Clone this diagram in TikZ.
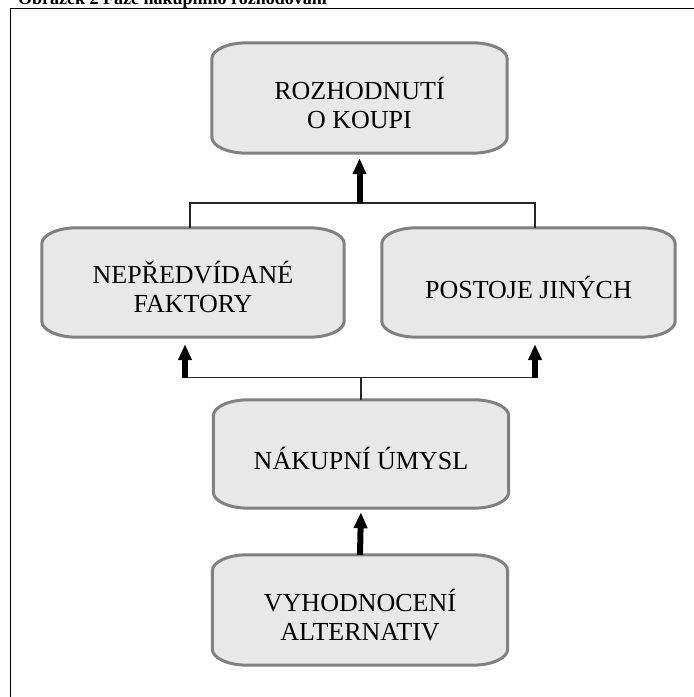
\documentclass[tikz,border=0pt]{standalone}
\usepackage{fontspec}
\setmainfont{Liberation Serif}
\usetikzlibrary{arrows.meta, calc, backgrounds}

% box with flat sides and oval corners round a named node
\newcommand{\ovalframe}[1]{%
  \draw[boxline] ([xshift=35pt]#1.north west) -- ([xshift=-35pt]#1.north east)
    arc[start angle=90, end angle=0, x radius=35pt, y radius=16pt]
    -- ([yshift=16pt]#1.south east)
    arc[start angle=0, end angle=-90, x radius=35pt, y radius=16pt]
    -- ([xshift=35pt]#1.south west)
    arc[start angle=270, end angle=180, x radius=35pt, y radius=16pt]
    -- ([yshift=-16pt]#1.north west)
    arc[start angle=180, end angle=90, x radius=35pt, y radius=16pt] -- cycle;}
% box text, set a little below the middle
\newcommand{\boxtext}[1]{\raisebox{-9pt}[\height][\depth]{\begin{tabular}{@{}c@{}}#1\end{tabular}}}

\begin{document}
\begin{tikzpicture}[x=1pt, y=1pt, >=Latex]
  % Define styles
  \tikzstyle{block} = [rectangle, minimum width=295pt, minimum height=110pt, inner sep=0pt, font=\fontsize{26}{29}\selectfont, text=black]
  \tikzstyle{boxline} = [draw=gray, line width=3pt, fill=gray!18]
  \tikzstyle{link} = [line width=1.4pt, black!85]
  \tikzstyle{bigarrow} = [line width=6pt, -{Triangle[width=13pt, length=16pt]}]

  \useasboundingbox (0,0) rectangle (694,697);
  \clip (0,0) rectangle (694,697);

  % Caption and frame
  \node[anchor=base west, inner sep=0pt, font=\fontsize{18}{20}\selectfont\bfseries] (caption) at (18,692) {Obrázek 2 Fáze nákupního rozhodování};
  \draw[line width=1.5pt] (10.5,-10) -- (10.5,688.5) -- (710,688.5);

  % Nodes
  \node[block] (rozhod) at (359.5,599) {\boxtext{ROZHODNUTÍ\\O KOUPI}};
  \node[block, minimum width=302pt, minimum height=109pt] (nepred) at (193,414.5) {\boxtext{NEPŘEDVÍDANÉ\hspace{32pt}\\FAKTORY\hspace{60pt}}};
  \node[block, minimum width=293pt, minimum height=109pt] (postoje) at (528.5,414.5) {\boxtext{POSTOJE JINÝCH}};
  \node[block, minimum height=108pt] (nakup) at (361,243) {\boxtext{NÁKUPNÍ ÚMYSL}};
  \node[block] (vyhod) at (360,87) {\boxtext{VYHODNOCENÍ\\ALTERNATIV}};

  \begin{scope}[on background layer]
    \foreach \n in {rozhod, nepred, postoje, nakup, vyhod} {\ovalframe{\n}}
  \end{scope}

  % Connectors
  \coordinate (upper) at ($(rozhod.south)+(0,-50)$);
  \coordinate (lower) at ($(nakup.north)+(0,22)$);
  \coordinate (nepredin) at ($(nepred.south)+(-8,0)$);
  \coordinate (postojein) at ($(postoje.south)+(6.5,0)$);
  \draw[link] ([xshift=-3pt]nepred.north) |- (upper) -| ([xshift=6.5pt]postoje.north);
  \draw[bigarrow, shorten >=5pt] (upper) -- (rozhod.south);
  \draw[link] (nakup.north) -- (lower);
  \draw[link] (nepredin |- lower) -- (postojein |- lower);
  \draw[bigarrow, shorten >=7pt] (nepredin |- lower) -- (nepredin);
  \draw[bigarrow, shorten >=7pt] (postojein |- lower) -- (postojein);
  \draw[bigarrow, shorten >=4pt] (vyhod.north) -- (nakup.south);
\end{tikzpicture}
\end{document}
